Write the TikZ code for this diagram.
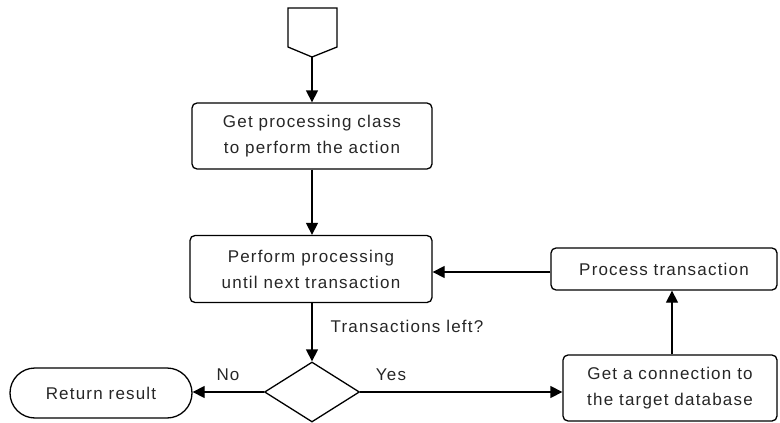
\documentclass[tikz,border=0pt]{standalone}
\usepackage{fontspec}
\setmainfont{Liberation Sans}[LetterSpace=7]
\usetikzlibrary{shapes.geometric,shapes.misc,arrows.meta}
\begin{document}
\begin{tikzpicture}[x=1pt,y=-1pt,
  every node/.style={font=\fontsize{17}{26}\selectfont, text=black!85},
  proc/.style={draw, line width=1.3pt, rounded corners=5pt, align=center, inner sep=0pt},
  term/.style={draw, line width=1.3pt, rounded rectangle, inner sep=0pt},
  decision/.style={draw, line width=1.3pt, diamond, inner sep=0pt, aspect=1.6},
  flow/.style={line width=1.3pt, -{Triangle[length=12pt,width=12pt]}},
  lbl/.style={inner sep=0pt}]
\useasboundingbox (0,0) rectangle (780,423);

% start connector (off-page pentagon)
\draw[line width=1.3pt] (288,8) -- (337,8) -- (337,47) -- (312,57) -- (288,47) -- cycle;
\coordinate (starttip) at (312,57);

\node[proc, minimum width=240pt, minimum height=66pt] (getclass) at (312,136)
  {Get processing class\\to perform the action};
\node[proc, minimum width=242pt, minimum height=67pt] (perform) at (311,269)
  {Perform processing\\until next transaction};
\node[decision, minimum width=95pt, minimum height=60pt] (left) at (312,392) {};
\node[term, minimum width=182pt, minimum height=50pt] (result) at (101,393) {Return result};
\node[proc, minimum width=226pt, minimum height=42pt] (process) at (664,269) {Process transaction};
\node[proc, minimum width=214pt, minimum height=66pt] (connect) at (670,388)
  {Get a connection to\\the target database};

\node[lbl] (qlabel) at (407,326) {Transactions left?};
\node[lbl] (nolabel) at (228,375) {No};
\node[lbl] (yeslabel) at (391,375) {Yes};

\draw[flow] (starttip) -- (getclass.north -| starttip);
\draw[flow] (getclass.south -| starttip) -- (perform.north -| starttip);
\draw[flow] (perform.south -| left.north) -- (left.north);
\draw[flow] (left.west) -- (result.east |- left.west);
\draw[flow] (left.east) -- (connect.west |- left.east);
\draw[flow] (connect.north -| 672,0) -- (process.south -| 672,0);
\draw[flow] (process.west |- 0,272) -- (perform.east |- 0,272);
\end{tikzpicture}
\end{document}
